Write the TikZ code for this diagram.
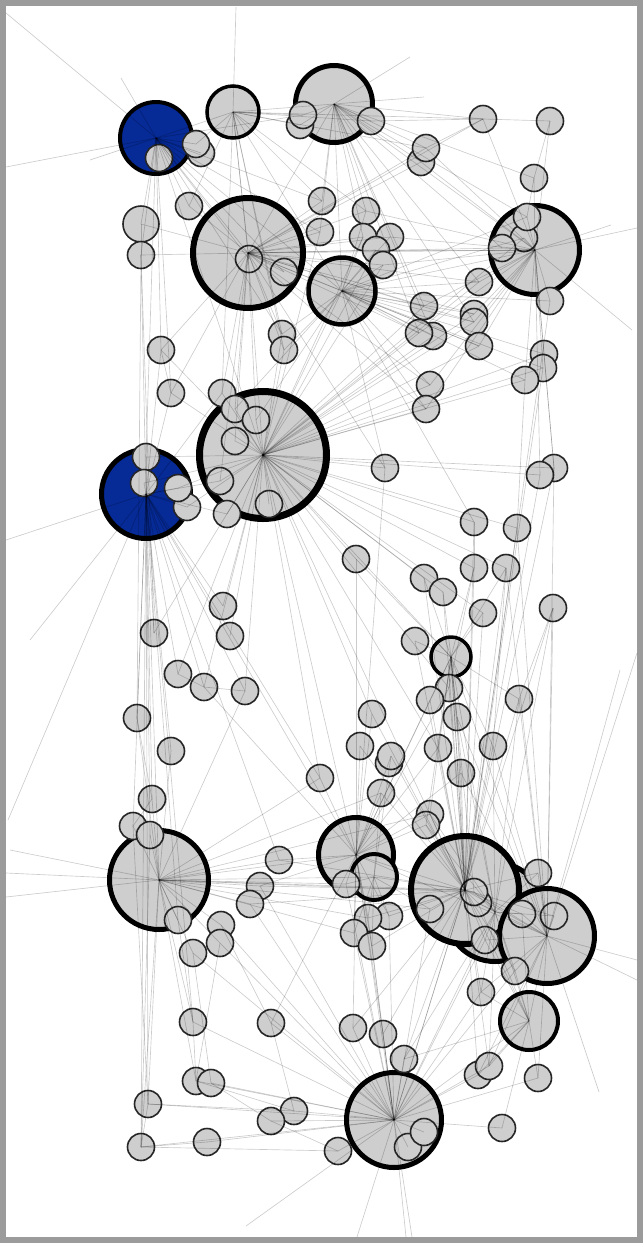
\documentclass[tikz,border=0pt]{standalone}
\usepackage{tikz}
\usetikzlibrary{backgrounds}
\definecolor{nodegray}{RGB}{206,206,206}
\definecolor{hubblue}{RGB}{6,42,150}
\definecolor{framegray}{RGB}{155,155,155}
\tikzset{
  smallnode/.style={
    circle,
    inner sep=0pt,
    minimum size=27,
    draw=black!85,
    line width=1.6pt,
    fill=nodegray
  },
  hub/.style={
    circle,
    inner sep=0pt,
    draw=black,
    line width=#1,
    fill=nodegray
  },
  bluehub/.style={
    hub=#1,
    fill=hubblue
  },
  edge/.style={
    draw=black,
    opacity=0.2,
    line width=0.65pt
  }
}

\begin{document}
\begin{tikzpicture}[x=1pt,y=-1pt]
\useasboundingbox (0,0) rectangle (643,1243);

% hubs
\node[bluehub=4pt, minimum size=72] (hA) at (156,138) {};
\node[hub=3.5pt, minimum size=52] (hB) at (233,112) {};
\node[hub=5pt, minimum size=77] (hC) at (334,104) {};
\node[hub=6pt, minimum size=110] (hD) at (248,253) {};
\node[hub=4.5pt, minimum size=67] (hE) at (342,291) {};
\node[hub=5pt, minimum size=89] (hF) at (535,250) {};
\node[hub=7pt, minimum size=127] (hG) at (263,455) {};
\node[bluehub=5pt, minimum size=89] (hH) at (146,494) {};
\node[hub=3.5pt, minimum size=40] (hP) at (451,657) {};
\node[hub=5pt, minimum size=99] (hI) at (159,880) {};
\node[hub=5pt, minimum size=75] (hJ) at (356,855) {};
\node[hub=4pt, minimum size=46] (hQ) at (374,877) {};
\node[hub=5pt, minimum size=99] (hL) at (495,912) {};
\node[hub=6pt, minimum size=108] (hK) at (465,890) {};
\node[hub=5pt, minimum size=95] (hM) at (547,936) {};
\node[hub=4pt, minimum size=58] (hN) at (529,1021) {};
\node[hub=5pt, minimum size=95] (hO) at (394,1120) {};

% top
\node[smallnode] (t2) at (300,125) {};
\node[smallnode] (t1) at (303,115) {};
\node[smallnode] (t3) at (371,121) {};
\node[smallnode] (t4) at (483,119) {};
\node[smallnode] (t5) at (550,121) {};
\node[smallnode] (t7) at (201,153) {};
\node[smallnode] (t6) at (196,144) {};
\node[smallnode] (t8) at (159,158) {};
\node[smallnode] (t10) at (421,162) {};
\node[smallnode] (t9) at (426,148) {};
\node[smallnode] (t11) at (534,178) {};
\node[smallnode] (t12) at (189,206) {};
\node[smallnode, minimum size=36] (t13) at (141,224) {};
\node[smallnode] (t14) at (141,255) {};
\node[smallnode] (t15) at (322,201) {};
\node[smallnode] (t16) at (320,232) {};
\node[smallnode] (t17) at (366,211) {};
\node[smallnode] (t18) at (363,237) {};
\node[smallnode] (t19) at (390,237) {};
\node[smallnode] (t20) at (376,250) {};
\node[smallnode] (t21) at (383,265) {};
\node[smallnode] (t22) at (249,259) {};
\node[smallnode] (t23) at (284,272) {};
\node[smallnode] (t25) at (524,238) {};
\node[smallnode] (t24) at (527,217) {};
\node[smallnode] (t26) at (502,248) {};
\node[smallnode] (t27) at (479,282) {};
\node[smallnode] (t28) at (550,301) {};
\node[smallnode] (t29) at (424,306) {};
\node[smallnode] (t30) at (474,314) {};

% middle
\node[smallnode] (m1) at (282,334) {};
\node[smallnode] (m2) at (284,350) {};
\node[smallnode] (m4) at (433,336) {};
\node[smallnode] (m3) at (419,333) {};
\node[smallnode] (m5) at (474,322) {};
\node[smallnode] (m6) at (479,346) {};
\node[smallnode] (m7) at (544,354) {};
\node[smallnode] (m8) at (543,368) {};
\node[smallnode] (m9) at (525,380) {};
\node[smallnode] (m10) at (161,350) {};
\node[smallnode] (m11) at (171,393) {};
\node[smallnode] (m12) at (222,393) {};
\node[smallnode] (m13) at (235,409) {};
\node[smallnode] (m14) at (256,420) {};
\node[smallnode] (m15) at (235,441) {};
\node[smallnode] (m16) at (430,385) {};
\node[smallnode] (m17) at (426,409) {};
\node[smallnode] (m18) at (385,468) {};
\node[smallnode] (m19) at (554,468) {};
\node[smallnode] (m20) at (540,475) {};
\node[smallnode] (m21) at (146,457) {};
\node[smallnode] (m22) at (144,483) {};
\node[smallnode] (m24) at (187,507) {};
\node[smallnode] (m23) at (178,488) {};
\node[smallnode] (m25) at (220,481) {};
\node[smallnode] (m26) at (227,514) {};
\node[smallnode] (m27) at (269,504) {};
\node[smallnode] (m28) at (474,522) {};
\node[smallnode] (m29) at (517,528) {};
\node[smallnode] (m30) at (356,559) {};
\node[smallnode] (m31) at (474,568) {};
\node[smallnode] (m32) at (506,568) {};
\node[smallnode] (m33) at (424,578) {};
\node[smallnode] (m34) at (443,592) {};
\node[smallnode] (m35) at (483,613) {};
\node[smallnode] (m36) at (553,608) {};
\node[smallnode] (m37) at (223,606) {};
\node[smallnode] (m38) at (154,633) {};
\node[smallnode] (m39) at (230,636) {};
\node[smallnode] (m40) at (415,641) {};

% lower
\node[smallnode] (l1) at (178,674) {};
\node[smallnode] (l2) at (204,687) {};
\node[smallnode] (l3) at (245,691) {};
\node[smallnode] (l4) at (137,718) {};
\node[smallnode] (l5) at (171,751) {};
\node[smallnode] (l6) at (449,688) {};
\node[smallnode] (l7) at (430,700) {};
\node[smallnode] (l8) at (457,717) {};
\node[smallnode] (l9) at (519,699) {};
\node[smallnode] (l10) at (372,714) {};
\node[smallnode] (l11) at (360,746) {};
\node[smallnode] (l12b) at (389,763) {};
\node[smallnode] (l12) at (391,756) {};
\node[smallnode] (l13) at (438,748) {};
\node[smallnode] (l14) at (493,746) {};
\node[smallnode] (l15) at (461,773) {};
\node[smallnode] (l16) at (320,778) {};
\node[smallnode] (l17) at (381,793) {};
\node[smallnode] (l18) at (152,799) {};
\node[smallnode] (l19) at (430,814) {};
\node[smallnode] (l20) at (426,825) {};
\node[smallnode] (l21) at (133,826) {};
\node[smallnode] (l22) at (150,835) {};
\node[smallnode] (l23) at (178,920) {};
\node[smallnode] (l24) at (279,860) {};
\node[smallnode] (l25) at (260,886) {};
\node[smallnode] (l26) at (250,904) {};
\node[smallnode] (l27) at (221,925) {};
\node[smallnode] (l28) at (220,943) {};
\node[smallnode] (l29) at (193,953) {};
\node[smallnode] (l30) at (346,884) {};
\node[smallnode] (l32) at (389,916) {};
\node[smallnode] (l31) at (368,918) {};
\node[smallnode] (l33) at (354,933) {};
\node[smallnode] (l34) at (372,946) {};
\node[smallnode] (l35) at (538,873) {};
\node[smallnode] (l37) at (478,903) {};
\node[smallnode] (l36) at (474,892) {};
\node[smallnode] (l38) at (430,909) {};
\node[smallnode] (l39) at (522,914) {};
\node[smallnode] (l40) at (554,916) {};
\node[smallnode] (l41) at (485,940) {};
\node[smallnode] (l42) at (515,971) {};
\node[smallnode] (l43) at (481,992) {};

% bottom
\node[smallnode] (b1) at (193,1022) {};
\node[smallnode] (b2) at (271,1023) {};
\node[smallnode] (b3) at (353,1028) {};
\node[smallnode] (b4) at (383,1034) {};
\node[smallnode] (b5) at (404,1059) {};
\node[smallnode] (b7) at (478,1075) {};
\node[smallnode] (b6) at (489,1066) {};
\node[smallnode] (b8) at (538,1078) {};
\node[smallnode] (b9) at (196,1081) {};
\node[smallnode] (b10) at (211,1083) {};
\node[smallnode] (b11) at (148,1104) {};
\node[smallnode] (b12) at (294,1111) {};
\node[smallnode] (b13) at (271,1121) {};
\node[smallnode] (b14) at (502,1128) {};
\node[smallnode] (b15) at (141,1147) {};
\node[smallnode] (b16) at (207,1142) {};
\node[smallnode] (b17) at (338,1151) {};
\node[smallnode] (b19) at (408,1147) {};
\node[smallnode] (b18) at (424,1132) {};

% loose ends
\coordinate (fA1) at (6,13);
\coordinate (fA2) at (6,167);
\coordinate (fA3) at (90,160);
\coordinate (fA4) at (121,78);
\coordinate (fB1) at (236,7);
\coordinate (fC1) at (410,57);
\coordinate (fC2) at (424,97);
\coordinate (fF1) at (637,228);
\coordinate (fF2) at (611,225);
\coordinate (fF3) at (632,330);
\coordinate (fH1) at (6,540);
\coordinate (fH2) at (8,820);
\coordinate (fH3) at (30,640);
\coordinate (fI1) at (6,873);
\coordinate (fI2) at (6,897);
\coordinate (fI3) at (10,850);
\coordinate (fM1) at (637,653);
\coordinate (fM2) at (637,980);
\coordinate (fM3) at (637,960);
\coordinate (fM4) at (620,670);
\coordinate (fM5) at (599,1092);
\coordinate (fO1) at (246,1226);
\coordinate (fO2) at (357,1237);
\coordinate (fO3) at (406,1237);
\coordinate (fO4) at (412,1237);

\begin{scope}[on background layer]
\fill[framegray] (0,0) rectangle (643,1243);
\fill[white] (6,6) rectangle (637,1237);
\end{scope}

\foreach \t in {t6,t7,t8,t12,t13,t14,hB,hD,t22,t15,m10,m11,t1,hG,m1,hE,t16,t23,m21,fA1,fA2,fA3,fA4}
  \draw[edge] (hA.center) -- (\t.center);
\foreach \t in {t1,t2,t3,hC,t6,t12,hD,t15,t17,m1,m2,hE,t4,t9,t22,m12,fB1}
  \draw[edge] (hB.center) -- (\t.center);
\foreach \t in {t1,t2,t3,t4,t9,t10,t11,t15,t16,t17,t18,hE,hF,t24,t26,t27,m3,m5,hD,t29,m4,fC1,fC2}
  \draw[edge] (hC.center) -- (\t.center);
\foreach \t in {t12,t13,t14,t15,t16,t17,t18,t19,t20,t21,t22,t23,m1,m2,m10,m11,m12,m13,m14,m15,hG,t27,t26,t29,m3,m16,m17,t9,t10,t4,hF,m5,m6,t30,hE,m18,m25}
  \draw[edge] (hD.center) -- (\t.center);
\foreach \t in {t17,t18,t19,t20,t21,t29,t30,m3,m4,m5,m6,m16,m17,hG,m13,m14,m1,m2,t27,t24,t25,t28,m7,m8,m9,hF,m18,m28}
  \draw[edge] (hE.center) -- (\t.center);
\foreach \t in {t4,t5,t9,t10,t11,t24,t25,t26,t27,t28,t29,t30,m5,m6,m7,m8,m9,t19,t20,t21,t17,m16,m17,m3,m19,m20,fF1,fF2,fF3}
  \draw[edge] (hF.center) -- (\t.center);
\foreach \t in {m1,m2,m10,m11,m12,m13,m14,m15,m16,m17,m18,m19,m20,m21,m22,m23,m24,m25,m26,m27,m28,m29,m30,m31,m32,m33,m34,m35,m37,m38,m39,t16,t18,t20,t21,t27,t29,t30,m3,m4,m5,m6,m7,m8,m9,l1,l2,l3,l6,l10,l16,hP,hJ,hK,l13,t25}
  \draw[edge] (hG.center) -- (\t.center);
\foreach \t in {m10,m11,m21,m22,m23,m24,m37,m38,l1,l4,l5,l18,l21,l22,hI,l23,b11,b15,b1,t14,m12,m25,m26,l2,l3,l16,l24,hJ,fH1,fH2,fH3}
  \draw[edge] (hH.center) -- (\t.center);
\foreach \t in {m33,m34,m35,m40,l6,l7,l8,l13,l14,l15,l19,l20,hK,hM,l9,m30,m31,m32,hL,l36}
  \draw[edge] (hP.center) -- (\t.center);
\foreach \t in {l4,l5,l18,l21,l22,l23,l24,l25,l26,l27,l28,l29,hJ,hQ,l30,l31,l33,hK,l38,l19,l36,b1,b9,b11,b15,l16,l17,l3,fI1,fI2,fI3}
  \draw[edge] (hI.center) -- (\t.center);
\foreach \t in {l10,l11,l12,l16,l17,l19,l20,l24,l25,l30,l31,l32,l33,l34,m30,m18,hP,l6,l7,l13,hK,hM,b3,b4,b2,l15,l2}
  \draw[edge] (hJ.center) -- (\t.center);
\foreach \t in {l30,l31,l32,l33,l34,l12,l17,hK,l38}
  \draw[edge] (hQ.center) -- (\t.center);
\foreach \t in {hP,l6,l7,l8,l9,l13,l14,l15,l19,l20,l35,l36,l37,l38,l39,l40,l41,l42,l43,hM,hN,hO,m28,m29,m31,m32,m33,m34,m35,m36,m40,l10,l11,l12,l17,l24,l25,l26,b3,b4,b5,b6,b7,l31,l32,l34,t28,m19,m20,m8}
  \draw[edge] (hK.center) -- (\t.center);
\foreach \t in {l35,l36,l37,l39,l40,l41,l42,l43,hN,l19,l20,l8,l14,b5,b6,m36,l9,hO}
  \draw[edge] (hL.center) -- (\t.center);
\foreach \t in {l35,l36,l37,l39,l40,l41,l42,l43,hN,l9,l14,l15,m36,m32,m19,m29,l8,b6,b7,b8,fM1,fM2,fM3,fM4,fM5}
  \draw[edge] (hM.center) -- (\t.center);
\foreach \t in {l41,l42,l43,b6,b7,b8,b14,hO,b5,l37,l39}
  \draw[edge] (hN.center) -- (\t.center);
\foreach \t in {b1,b2,b3,b4,b5,b6,b7,b8,b9,b10,b11,b12,b13,b14,b15,b16,b17,b18,b19,l30,l31,l32,l33,l34,l38,l41,l42,l43,l25,l26,l27,l28,l29,hJ,hK,fO1,fO2,fO3,fO4}
  \draw[edge] (hO.center) -- (\t.center);
\foreach \s/\t in {t13/t14,t14/l4,t14/m38,l4/l18,l18/l21,l21/b11,l22/b15,b11/b15,b15/b17,b11/b12,b9/b12,b1/b9,b15/b16,b10/b13,b13/b17,b2/b12,l23/b1,l28/b9,l27/b2,l29/b10,t4/t5,t5/t11,t11/t24,t4/t9,m7/m19,m9/m29,m36/l9,m28/m31,m31/l6,m32/l14,t3/t4,m10/m11,l1/l2,l2/l3}
  \draw[edge] (\s.center) -- (\t.center);
\end{tikzpicture}
\end{document}
